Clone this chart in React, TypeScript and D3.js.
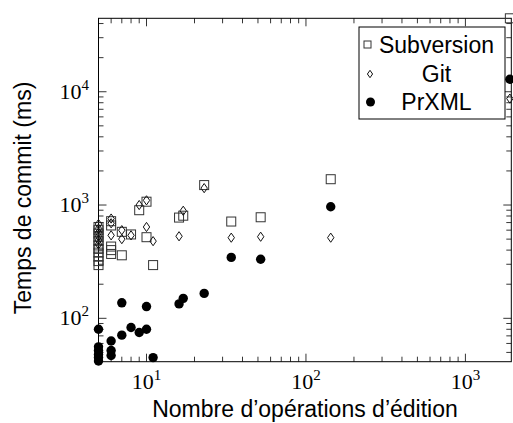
import React from "react";
import * as d3 from "d3";

const subversion: [number, number][] = [
  [5, 640], [5, 600], [5, 560], [5, 520], [5, 480], [5, 440], [5, 410], [5, 380], [5, 350], [5, 320], [5, 295],
  [6, 720], [6, 660], [6, 430], [6, 400], [6, 370],
  [7, 580], [7, 360], [8, 550], [9, 900], [10, 1070], [10, 520], [11, 295],
  [16, 775], [17, 805], [23, 1500], [34, 715], [52, 780], [143, 1690], [1900, 44500],
];
const git: [number, number][] = [
  [5, 680], [5, 620], [5, 570], [5, 530], [5, 490], [5, 450],
  [6, 760], [6, 690], [6, 540], [7, 600], [7, 500], [8, 540], [9, 1000],
  [10, 1100], [10, 640], [11, 480], [16, 530], [17, 890], [23, 1410],
  [34, 515], [52, 525], [143, 515], [1900, 8700],
];
const prxml: [number, number][] = [
  [5, 80], [5, 56], [5, 52], [5, 48], [5, 45], [5, 42],
  [6, 63], [6, 52], [6, 47], [7, 137], [7, 71], [8, 83], [9, 75],
  [10, 127], [10, 80], [11, 45], [16, 134], [17, 150], [23, 166],
  [34, 345], [52, 332], [143, 966], [1900, 12900],
];
const xMajor = [10, 100, 1000];
const xExp = ["1", "2", "3"];
const yMajor = [100, 1000, 10000];
const yExp = ["2", "3", "4"];
const legendLabels = ["Subversion", "Git", "PrXML"];
const xTitle = "Nombre d\u2019op\u00e9rations d\u2019\u00e9dition";
const yTitle = "Temps de commit (ms)";

const L = 98.5, R = 511.3, T = 18.3, B = 361.7;
const x = d3.scaleLog().domain([5, 1940]).range([L, R]);
const y = d3.scaleLog().domain([41.4, 44500]).range([B, T]);

function minorTicks(dom: number[]) {
  const out: number[] = [];
  for (let e = -1; e <= 6; e++) {
    for (let m = 2; m <= 9; m++) {
      const v = m * Math.pow(10, e);
      if (v >= dom[0] && v <= dom[1]) out.push(v);
    }
  }
  return out;
}

export default function App() {
  const xMin = minorTicks(x.domain());
  const yMin = minorTicks(y.domain());
  const MJ = 8, MN = 5;
  const serif = "'Liberation Serif', serif";
  const sans = "'Liberation Sans', Arial, sans-serif";
  return (
    <svg width={513} height={423} style={{ position: "absolute", left: 0, top: 0 }}>
      <rect width={513} height={423} fill="white" />
      <g stroke="#000" strokeWidth={0.8}>
        {xMin.map((v) => (
          <g key={"xm" + v}>
            <line x1={x(v)} x2={x(v)} y1={B} y2={B - MN} />
            <line x1={x(v)} x2={x(v)} y1={T} y2={T + MN} />
          </g>
        ))}
        {xMajor.map((v) => (
          <g key={"xM" + v}>
            <line x1={x(v)} x2={x(v)} y1={B} y2={B - MJ} />
            <line x1={x(v)} x2={x(v)} y1={T} y2={T + MJ} />
          </g>
        ))}
        {yMin.map((v) => (
          <g key={"ym" + v}>
            <line x1={L} x2={L + MN} y1={y(v)} y2={y(v)} />
            <line x1={R} x2={R - MN} y1={y(v)} y2={y(v)} />
          </g>
        ))}
        {yMajor.map((v) => (
          <g key={"yM" + v}>
            <line x1={L} x2={L + MJ} y1={y(v)} y2={y(v)} />
            <line x1={R} x2={R - MJ} y1={y(v)} y2={y(v)} />
          </g>
        ))}
      </g>
      <rect x={L} y={T} width={R - L} height={B - T} fill="none" stroke="#000" strokeWidth={1} />
      {xMajor.map((v, i) => (
        <text key={"xl" + v} x={x(v)} y={389} textAnchor="middle" fontFamily={serif} fontSize={22}>
          10<tspan fontSize={15} dy={-9}>{xExp[i]}</tspan>
        </text>
      ))}
      {yMajor.map((v, i) => (
        <text key={"yl" + v} x={89} y={y(v) + 7} textAnchor="end" fontFamily={serif} fontSize={22}>
          10<tspan fontSize={15} dy={-9}>{yExp[i]}</tspan>
        </text>
      ))}
      <text x={305} y={417} textAnchor="middle" fontFamily={sans} fontSize={23}>{xTitle}</text>
      <text transform={`translate(31,${198}) rotate(-90)`} textAnchor="middle" fontFamily={sans} fontSize={23}>{yTitle}</text>
      <g fill="none" stroke="#333" strokeWidth={1}>
        {subversion.map((d, i) => (
          <rect key={"s" + i} x={x(d[0]) - 4.5} y={y(d[1]) - 4.5} width={9} height={9} />
        ))}
      </g>
      <g fill="none" stroke="#111" strokeWidth={1}>
        {git.map((d, i) => {
          const cx = x(d[0]), cy = y(d[1]);
          return <path key={"g" + i} d={`M${cx},${cy - 4.6}L${cx + 3.2},${cy}L${cx},${cy + 4.6}L${cx - 3.2},${cy}Z`} />;
        })}
      </g>
      <g fill="#000">
        {prxml.map((d, i) => (
          <circle key={"p" + i} cx={x(d[0])} cy={y(d[1])} r={4.7} />
        ))}
      </g>
      <rect x={359} y={27} width={146} height={92} fill="white" stroke="#000" strokeWidth={1} />
      <rect x={364} y={41} width={7} height={7} fill="none" stroke="#333" strokeWidth={1} />
      <path d="M370,70.3L372.6,74L370,77.7L367.4,74Z" fill="none" stroke="#111" strokeWidth={1} />
      <circle cx={370.5} cy={102} r={4.5} fill="#000" />
      {legendLabels.map((t, i) => (
        <text key={t} x={436.5} y={53 + i * 28.5} textAnchor="middle" fontFamily={sans} fontSize={23}>{t}</text>
      ))}
    </svg>
  );
}
